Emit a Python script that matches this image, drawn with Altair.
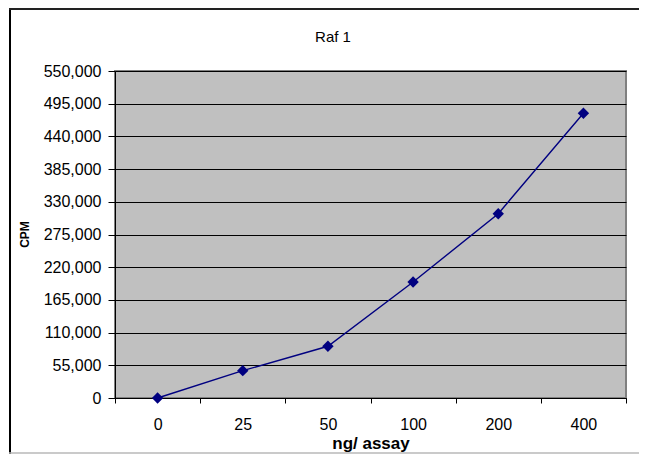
import altair as alt
import pandas as pd

doses = ["0", "25", "50", "100", "200", "400"]
cpm = [0, 46000, 87000, 195000, 310000, 479000]
y_ticks = [0, 55000, 110000, 165000, 220000, 275000, 330000, 385000, 440000, 495000, 550000]
chart_title = "Raf 1"

df = pd.DataFrame({"dose": doses, "cpm": cpm})

FONT = "Liberation Sans"
NAVY = "#000080"

base = alt.Chart(df).encode(
    x=alt.X(
        "dose:O",
        sort=doses,
        title="ng/ assay",
        axis=alt.Axis(
            labelAngle=0,
            tickBand="extent",
            tickSize=5,
            labelPadding=13,
            labelFontSize=16,
            labelFont=FONT,
            labelColor="black",
            domainColor="black",
            tickColor="black",
            titleFont=FONT,
            titleFontSize=17,
            titleFontWeight="bold",
            titleColor="black",
            titleY=45,
            titleBaseline="middle",
            grid=False,
        ),
        scale=alt.Scale(paddingInner=0, paddingOuter=0),
    ),
    y=alt.Y(
        "cpm:Q",
        title="CPM",
        scale=alt.Scale(domain=[0, 550000], nice=False),
        axis=alt.Axis(
            values=y_ticks,
            labelExpr="format(datum.value, ',')",
            tickSize=7,
            labelPadding=7,
            labelFontSize=16,
            labelFont=FONT,
            labelColor="black",
            domainColor="black",
            tickColor="black",
            gridColor="black",
            gridWidth=1,
            gridOpacity=1,
            titleFont=FONT,
            titleFontSize=12,
            titleFontWeight="bold",
            titleColor="black",
            titleX=-91,
            titleY=163,
            titleBaseline="middle",
            titleAlign="center",
        ),
    ),
)

line = base.mark_line(color=NAVY, strokeWidth=1.4)
pts = base.mark_point(shape="diamond", filled=True, color=NAVY, size=130, opacity=1)

one = alt.Data(values=[{"t": chart_title}])
title_text = alt.Chart(one).mark_text(
    font=FONT, fontSize=15, color="black", align="center", baseline="middle"
).encode(text="t:N", x=alt.value(218), y=alt.value(-34))

left_rule = alt.Chart(one).mark_rule(color="black", strokeWidth=2).encode(
    x=alt.value(-105), y=alt.value(-62), y2=alt.value(383)
)
top_rule = alt.Chart(one).mark_rule(color="#222222", strokeWidth=2).encode(
    x=alt.value(-106), x2=alt.value(524), y=alt.value(-62)
)
bottom_rule = alt.Chart(one).mark_rule(color="#b8b8b8", strokeWidth=1.5).encode(
    x=alt.value(-106), x2=alt.value(524), y=alt.value(382)
)

chart = (
    alt.layer(line, pts, title_text, left_rule, top_rule, bottom_rule)
    .properties(
        width=511,
        height=327,
        autosize=alt.AutoSizeParams(type="none"),
        padding={"left": 107, "top": 63, "right": 15, "bottom": 56},
    )
    .configure(background="white")
    .configure_view(fill="#C0C0C0", stroke="#808080", strokeWidth=2)
)

chart.save("out.html", embed_options={"renderer": "svg", "actions": False})
